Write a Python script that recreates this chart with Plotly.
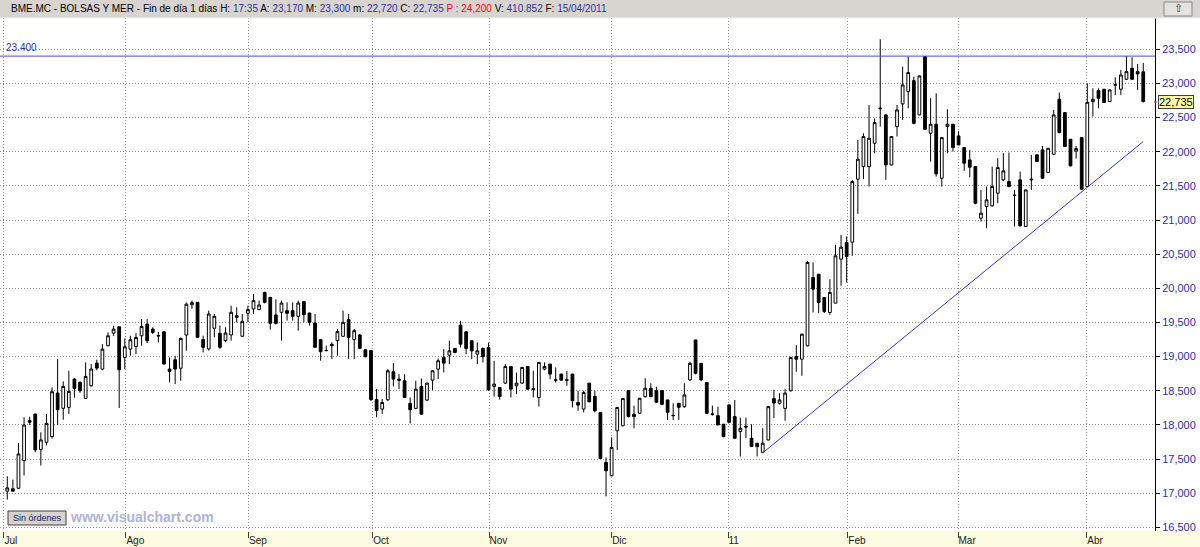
import plotly.graph_objects as go

# ---------------- data ----------------
opens = [17030, 17065, 17073, 17478, 18063, 18160, 17640, 17746, 17829, 18467,
         18243, 18257, 18671, 18622, 18389, 18574, 18905, 18818, 19160, 19344,
         19437, 18988, 19110, 19149, 19305, 19476, 19403, 19300, 19364, 18818,
         18954, 18830, 19315, 19760, 19795, 19249, 19112, 19415, 19341, 19234,
         19317, 19600, 19298, 19634, 19698, 19688, 19941, 19868, 19610, 19649,
         19673, 19673, 19590, 19805, 19639, 19493, 19249, 19090, 19180, 19234,
         19298, 19541, 19249, 19317, 19102, 19088, 18371, 18232, 18368, 18778,
         18670, 18646, 18315, 18242, 18563, 18363, 18656, 18817, 18988, 19022,
         19120, 19461, 19363, 19232, 19036, 19120, 19134, 18563, 18549, 18612,
         18856, 18573, 18612, 18856, 18530, 18402, 18817, 18890, 18660, 18744,
         18660, 18744, 18329, 18232, 18612, 18417, 18183, 17451, 17256, 17915,
         17988, 18502, 18156, 18171, 18414, 18537, 18502, 18502, 18366, 18140,
         18317, 18268, 18659, 19244, 18902, 18620, 18160, 18136, 18010, 18293,
         18122, 17903, 17980, 17805, 17732, 17600, 17780, 18385, 18317, 18242,
         18500, 19002, 18963, 19158, 20159, 20207, 19866, 19646, 19783, 20427,
         20671, 20676, 21598, 21783, 21783, 22124, 22640, 22539, 21807, 22368,
         22700, 22880, 23041, 22539, 23393, 22271, 22402, 21612, 22368, 22402,
         22232, 22061, 21880, 21783, 21027, 21198, 21207, 21393, 21588, 21563,
         21365, 21588, 20905, 21600, 21954, 22027, 21695, 21963, 22768, 22573,
         22183, 22010, 22207, 21490, 22734, 22895, 22915, 22734, 22975, 22915,
         23061, 23222, 23173, 23170]

highs = [17249, 17200, 17736, 18112, 18120, 18160, 17892, 18160, 18550, 18964,
         18637, 18793, 18690, 18640, 18915, 18890, 18955, 19183, 19354, 19450,
         19440, 19266, 19305, 19344, 19549, 19549, 19430, 19364, 19364, 18988,
         19012, 19281, 19793, 19820, 19800, 19307, 19673, 19624, 19454, 19429,
         19746, 19722, 19624, 19746, 19917, 19820, 19950, 19870, 19839, 19820,
         19795, 19795, 19820, 19810, 19640, 19624, 19250, 19161, 19210, 19405,
         19673, 19624, 19405, 19332, 19105, 19090, 18527, 18380, 18817, 18905,
         18744, 18744, 18402, 18646, 18680, 18620, 18800, 18973, 19110, 19232,
         19125, 19524, 19365, 19235, 19207, 19134, 19207, 18939, 18550, 18890,
         18860, 18768, 18850, 18860, 18793, 18920, 18915, 18895, 18842, 18750,
         18790, 18750, 18500, 18500, 18615, 18500, 18185, 17524, 17817, 18260,
         18392, 18505, 18283, 18395, 18683, 18610, 18560, 18505, 18370, 18317,
         18320, 18610, 18926, 19246, 18905, 18625, 18283, 18268, 18015, 18298,
         18366, 18107, 18107, 18010, 17735, 17951, 18270, 18515, 18463, 18525,
         19000, 19168, 19335, 20402, 20378, 20210, 19870, 20134, 20637, 20783,
         20759, 21588, 22173, 22271, 22685, 22490, 23646, 22545, 22225, 22685,
         23246, 23393, 23100, 23115, 23395, 22783, 22856, 22210, 22622, 22405,
         22300, 22065, 22027, 21785, 21441, 21490, 21783, 21905, 21978, 21988,
         21441, 21710, 21445, 21954, 21958, 22085, 22055, 22612, 22866, 22575,
         22185, 22085, 22210, 23002, 22929, 22929, 22920, 22910, 23090, 23198,
         23402, 23383, 23285, 23300]

lows = [16907, 17030, 17065, 17259, 18000, 17600, 17405, 17700, 17800, 17999,
        18077, 18160, 18400, 18470, 18380, 18560, 18800, 18800, 19150, 19300,
        18248, 18818, 19014, 19037, 19160, 19200, 19330, 19208, 18891, 18623,
        18598, 18647, 19086, 19700, 19283, 19063, 19088, 19283, 19112, 19210,
        19234, 19502, 19298, 19502, 19624, 19680, 19780, 19395, 19470, 19234,
        19527, 19527, 19380, 19502, 19454, 19137, 18941, 19080, 18966, 19015,
        19290, 18966, 18966, 19110, 18990, 18350, 18112, 18161, 18350, 18563,
        18524, 18400, 18022, 18230, 18150, 18350, 18510, 18670, 18768, 18890,
        19050, 19134, 19036, 18963, 18890, 18915, 18500, 18417, 18370, 18600,
        18402, 18451, 18600, 18510, 18402, 18270, 18800, 18670, 18620, 18650,
        18573, 18256, 18207, 18183, 18330, 18183, 17500, 16954, 17250, 17634,
        17980, 18110, 17951, 18160, 18400, 18405, 18320, 18290, 18073, 18073,
        18073, 18250, 18640, 18740, 18640, 18160, 18136, 17995, 17820, 18030,
        17800, 17537, 17805, 17680, 17537, 17595, 17775, 18100, 18300, 18061,
        18490, 18778, 18720, 19150, 19646, 19637, 19637, 19612, 19783, 20037,
        20085, 20476, 21090, 21598, 21490, 21978, 22368, 21588, 21800, 22222,
        22466, 22637, 22400, 22535, 22325, 21856, 21637, 21490, 21978, 22002,
        22095, 21720, 21627, 21230, 20978, 20880, 21200, 21246, 21570, 21480,
        20905, 20905, 20900, 21441, 21850, 21600, 21690, 21950, 22270, 22070,
        21785, 21900, 21445, 21485, 22515, 22637, 22715, 22730, 22830, 22830,
        23055, 23055, 22905, 22720]

closes = [17078, 17030, 17575, 17999, 18040, 17635, 17780, 18023, 18486, 18223,
          18564, 18491, 18535, 18500, 18710, 18818, 18832, 19110, 19305, 19403,
          18808, 19144, 19247, 19281, 19442, 19232, 19354, 19310, 18891, 18784,
          18818, 19266, 19768, 19790, 19283, 19137, 19624, 19590, 19137, 19346,
          19649, 19576, 19517, 19688, 19820, 19756, 19795, 19488, 19488, 19785,
          19634, 19590, 19785, 19615, 19502, 19137, 19073, 19088, 19160, 19366,
          19502, 19283, 19380, 19122, 19000, 18371, 18210, 18329, 18793, 18671,
          18656, 18402, 18222, 18524, 18158, 18612, 18793, 18939, 18905, 19085,
          19061, 19183, 19120, 19085, 19085, 18998, 18515, 18598, 18417, 18856,
          18524, 18612, 18842, 18524, 18520, 18915, 18856, 18744, 18656, 18656,
          18656, 18354, 18290, 18476, 18339, 18207, 17510, 17329, 17671, 18256,
          18388, 18122, 18122, 18390, 18537, 18414, 18332, 18302, 18185, 18136,
          18258, 18439, 18902, 18756, 18659, 18171, 18156, 18000, 17829, 18039,
          17805, 17951, 17970, 17683, 17683, 17732, 18268, 18320, 18366, 18466,
          18988, 18963, 19329, 20378, 19988, 19793, 19661, 19939, 20476, 20603,
          20466, 21563, 21890, 22222, 22198, 22427, 22630, 21807, 22222, 22612,
          22978, 23159, 22417, 23110, 22329, 22402, 21676, 22207, 22402, 22061,
          22100, 21832, 21773, 21246, 21100, 21295, 21490, 21768, 21720, 21490,
          21360, 20915, 21441, 21590, 21856, 21612, 22051, 22539, 22280, 22076,
          21793, 22046, 21451, 22724, 22768, 22783, 22720, 22905, 22980, 23124,
          23173, 23061, 23139, 22735]

month_labels = ["Jul", "Ago", "Sep", "Oct", "Nov", "Dic", "11", "Feb", "Mar", "Abr"]
month_pos = [-0.6, 21.2, 43.1, 65.3, 86.1, 108.0, 128.8, 150.2, 169.9, 192.9]

resistance_level = 23400
trend_idx = [135, 203]
trend_val = [17590, 22150]
last_close = 22735

header_info = [("H:", "17:35"), ("A:", "23,170"), ("M:", "23,300"), ("m:", "22,720"),
               ("C:", "22,735")]
header_tail = [("V:", "410.852"), ("F:", "15/04/2011")]

# ---------------- figure ----------------
FONT = "Liberation Sans, Arial, sans-serif"
BLUE_TXT = "#2e2e9e"
W, H = 1200, 547
ML, MR, MT, MB = 0, 45, 18, 16
PW, PH = W - ML - MR, H - MT - MB


def py(row):
    """pixel row (from top of figure) -> paper y"""
    return (MT + PH - row) / PH


def px(col):
    """pixel column -> paper x"""
    return (col - ML) / PW


idx = list(range(len(opens)))

fig = go.Figure()
fig.add_trace(go.Candlestick(
    x=idx, open=opens, high=highs, low=lows, close=closes,
    increasing=dict(fillcolor="white", line=dict(color="black", width=1)),
    decreasing=dict(fillcolor="black", line=dict(color="black", width=1)),
    whiskerwidth=0, showlegend=False, hoverinfo="skip",
))
fig.add_trace(go.Scatter(
    x=trend_idx, y=trend_val, mode="lines",
    line=dict(color="#3434e0", width=1), showlegend=False, hoverinfo="skip",
))

shapes = [
    # header band
    dict(type="rect", xref="paper", yref="paper", x0=0, x1=px(W), y0=py(18), y1=py(0),
         fillcolor="#d8d5d0", line=dict(width=0), layer="below"),
    dict(type="line", xref="paper", yref="paper", x0=0, x1=px(W), y0=py(18), y1=py(18),
         line=dict(color="#f4f4f4", width=1)),
    # bottom axis band
    dict(type="rect", xref="paper", yref="paper", x0=0, x1=px(W), y0=py(H), y1=py(531),
         fillcolor="#fdfbe0", line=dict(width=0), layer="below"),
    # resistance line
    dict(type="line", xref="paper", yref="y", x0=0, x1=1,
         y0=resistance_level, y1=resistance_level, line=dict(color="#4848e0", width=1)),
    # small button top-right
    dict(type="rect", xref="paper", yref="paper", x0=px(1164), x1=px(1192),
         y0=py(16), y1=py(2), fillcolor="#e4e2de", line=dict(color="#888888", width=1)),
    # "Sin órdenes" button
    dict(type="rect", xref="paper", yref="paper", x0=px(8), x1=px(66),
         y0=py(525), y1=py(511), fillcolor="#d6d3ce", line=dict(color="#404040", width=1)),
]

header_html = "BME.MC - BOLSAS Y MER - Fin de día 1 días "
for lab, val in header_info:
    header_html += f"{lab} <span style='color:{BLUE_TXT}'>{val}</span> "
header_html += "<span style='color:#ff0000'>P : 24,200</span> "
for lab, val in header_tail:
    header_html += f"{lab} <span style='color:{BLUE_TXT}'>{val}</span> "

annotations = [
    dict(xref="paper", yref="paper", x=px(9), y=py(9), xanchor="left",
         yanchor="middle", text=header_html.strip(), showarrow=False,
         font=dict(family=FONT, size=10, color="#000000")),
    dict(xref="paper", yref="paper", x=px(1178), y=py(9), xanchor="center", yanchor="middle",
         text="⇧", showarrow=False,
         font=dict(family="DejaVu Sans", size=11, color="#333333")),
    dict(xref="paper", yref="y", x=px(4), y=resistance_level, xanchor="left",
         yanchor="bottom", yshift=1, text=f"{resistance_level / 1000:.3f}",
         showarrow=False, font=dict(family=FONT, size=10, color="#3030c0")),
    dict(xref="paper", yref="y", x=px(1158), y=last_close, xanchor="left",
         yanchor="middle", text=f"{last_close:,}", showarrow=False,
         bgcolor="#ffffa8", bordercolor="#404040", borderwidth=1, borderpad=0,
         font=dict(family=FONT, size=11, color="#000000")),
    dict(xref="paper", yref="y", x=px(1152), y=last_close, xanchor="left",
         yanchor="middle", text="•", showarrow=False,
         font=dict(family=FONT, size=8, color="#404040")),
    dict(xref="paper", yref="paper", x=px(37), y=py(518), xanchor="center", yanchor="middle",
         text="Sin órdenes", showarrow=False,
         font=dict(family=FONT, size=9, color="#1a1a60")),
    dict(xref="paper", yref="paper", x=px(68), y=py(517), xanchor="left",
         yanchor="middle", text="<b>www.visualchart.com</b>",
         showarrow=False, font=dict(family=FONT, size=14, color="#aeb2d6")),
]

GRID_DASH = "1px,2px"
fig.update_layout(
    width=W, height=H,
    margin=dict(l=ML, r=MR, t=MT, b=MB, pad=0),
    paper_bgcolor="white", plot_bgcolor="white",
    shapes=shapes, annotations=annotations,
    showlegend=False,
    xaxis=dict(
        range=[-1.3, 205.1], rangeslider=dict(visible=False),
        tickmode="array", tickvals=month_pos, ticktext=month_labels,
        ticks="outside", ticklen=6, tickcolor="#404040", tickwidth=1,
        ticklabelposition="outside right",
        tickfont=dict(family=FONT, size=10, color="#202020"),
        showgrid=True, gridcolor="#909090", griddash=GRID_DASH, gridwidth=1,
        showline=False, zeroline=False, fixedrange=True,
    ),
    yaxis=dict(
        side="right", range=[16447, 23958],
        tickmode="linear", tick0=16500, dtick=500, tickformat=",d",
        ticks="outside", ticklen=4, tickcolor="#000000",
        tickfont=dict(family=FONT, size=11, color=BLUE_TXT),
        showgrid=True, gridcolor="#909090", griddash=GRID_DASH, gridwidth=1,
        showline=True, linecolor="#000000", linewidth=1,
        zeroline=False, fixedrange=True,
    ),
)

fig.write_html("out.html", config={"displayModeBar": False},
               post_script="document.body.style.margin='0px';")
